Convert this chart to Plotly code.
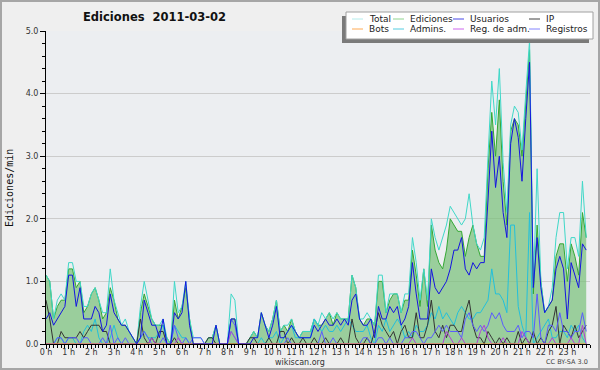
import plotly.graph_objects as go

# ---------------- data (edits per minute, 10-minute bins) ----------------
minutes = list(range(0, 1440, 10))
hour_labels = [f"{h} h" for h in range(24)]

total = [
    1.1, 1.0, 0.4, 0.7, 0.8, 0.7,
    1.3, 1.3, 1.0, 1.0, 0.6, 0.6,
    0.8, 0.9, 0.7, 0.5, 0.5, 1.2,
    0.7, 0.5, 0.3, 0.4, 0.2, 0.1,
    0.0, 0.6, 1.0, 0.7, 0.4, 0.3,
    0.3, 0.4, 0.1, 0.0, 1.0, 0.5,
    0.6, 1.0, 0.4, 0.1, 0.1, 0.1,
    0.0, 0.1, 0.1, 0.3, 0.0, 0.0,
    0.0, 0.8, 0.7, 0.0, 0.0, 0.0,
    0.1, 0.2, 0.1, 0.5, 0.3, 0.2,
    0.4, 0.7, 0.2, 0.3, 0.3, 0.4,
    0.2, 0.1, 0.2, 0.2, 0.2, 0.4,
    0.3, 0.5, 0.4, 0.5, 0.4, 0.5,
    0.4, 0.4, 0.4, 1.1, 0.9, 0.4,
    0.4, 0.5, 0.4, 0.3, 1.1, 1.1,
    0.5, 0.8, 0.8, 0.8, 0.5, 0.8,
    0.8, 1.7, 1.3, 0.7, 1.2, 0.7,
    2.0, 1.7, 1.5, 1.7, 1.9, 2.2,
    2.1, 2.0, 1.9, 2.0, 2.4, 1.9,
    1.6, 1.5, 1.7, 3.0, 4.2, 3.5,
    4.4, 2.9, 2.1, 3.5, 3.8, 3.7,
    3.1, 4.0, 4.85, 0.9, 2.8, 1.0,
    0.5, 0.6, 0.9, 1.7, 2.1, 2.1,
    1.2, 1.7, 1.7, 1.4, 2.6, 1.7,
]

ediciones = [
    1.1, 1.0, 0.4, 0.6, 0.7, 0.7,
    1.2, 1.2, 0.9, 1.0, 0.5, 0.6,
    0.8, 0.9, 0.7, 0.4, 0.5, 0.9,
    0.7, 0.4, 0.3, 0.3, 0.2, 0.1,
    0.0, 0.5, 0.8, 0.6, 0.4, 0.3,
    0.3, 0.3, 0.1, 0.0, 0.7, 0.4,
    0.6, 0.9, 0.4, 0.0, 0.0, 0.0,
    0.0, 0.1, 0.1, 0.3, 0.0, 0.0,
    0.0, 0.4, 0.4, 0.0, 0.0, 0.0,
    0.1, 0.2, 0.1, 0.5, 0.3, 0.2,
    0.4, 0.7, 0.2, 0.3, 0.2, 0.4,
    0.2, 0.1, 0.2, 0.2, 0.2, 0.4,
    0.3, 0.3, 0.4, 0.5, 0.3, 0.5,
    0.4, 0.4, 0.4, 1.1, 0.9, 0.4,
    0.3, 0.4, 0.4, 0.3, 1.0, 1.0,
    0.5, 0.7, 0.8, 0.8, 0.5, 0.7,
    0.7, 1.5, 1.1, 0.6, 1.2, 0.6,
    1.9, 1.5, 1.3, 1.2, 1.5, 2.0,
    1.9, 1.8, 1.8, 1.4, 1.7, 1.9,
    1.6, 1.4, 1.4, 2.8, 3.7, 3.0,
    3.9, 2.6, 1.9, 3.4, 3.6, 3.5,
    3.0, 3.8, 4.7, 0.8, 1.9, 1.0,
    0.5, 0.6, 0.7, 1.4, 1.6, 1.6,
    1.0, 1.6, 1.4, 1.1, 2.1, 1.7,
]

usuarios = [
    0.4, 0.5, 0.3, 0.4, 0.5, 0.6,
    1.1, 1.1, 0.6, 0.9, 0.4, 0.4,
    0.4, 0.6, 0.5, 0.2, 0.3, 0.8,
    0.5, 0.4, 0.3, 0.3, 0.2, 0.1,
    0.0, 0.1, 0.7, 0.5, 0.3, 0.3,
    0.1, 0.4, 0.0, 0.0, 0.5, 0.4,
    0.5, 1.0, 0.3, 0.0, 0.0, 0.0,
    0.0, 0.0, 0.0, 0.3, 0.0, 0.0,
    0.0, 0.4, 0.4, 0.0, 0.0, 0.0,
    0.0, 0.1, 0.1, 0.5, 0.3, 0.1,
    0.3, 0.6, 0.1, 0.1, 0.2, 0.3,
    0.2, 0.1, 0.1, 0.1, 0.1, 0.3,
    0.2, 0.3, 0.4, 0.3, 0.3, 0.4,
    0.3, 0.4, 0.3, 0.7, 0.8, 0.4,
    0.3, 0.3, 0.4, 0.1, 0.6, 0.4,
    0.4, 0.6, 0.5, 0.6, 0.3, 0.4,
    0.6, 1.3, 0.8, 0.4, 0.4, 0.4,
    1.2, 0.9, 0.8, 0.9, 1.0, 1.2,
    1.5, 1.5, 1.7, 1.2, 1.1, 1.3,
    1.2, 1.3, 1.3, 2.3, 3.4, 2.5,
    3.0, 2.1, 1.7, 3.2, 3.6, 3.3,
    2.6, 3.6, 4.5, 0.9, 1.7, 0.9,
    0.5, 0.6, 0.7, 1.2, 1.4, 1.2,
    0.4, 1.3, 1.1, 0.9, 1.6, 1.5,
]

ip = [
    0.7, 0.4, 0.0, 0.0, 0.2, 0.1,
    0.1, 0.1, 0.1, 0.2, 0.1, 0.2,
    0.3, 0.3, 0.3, 0.2, 0.2, 0.0,
    0.0, 0.0, 0.0, 0.0, 0.0, 0.0,
    0.0, 0.4, 0.1, 0.0, 0.1, 0.0,
    0.2, 0.2, 0.0, 0.0, 0.1, 0.0,
    0.0, 0.0, 0.0, 0.0, 0.0, 0.0,
    0.0, 0.1, 0.1, 0.0, 0.0, 0.0,
    0.0, 0.0, 0.0, 0.0, 0.0, 0.0,
    0.1, 0.1, 0.0, 0.0, 0.0, 0.1,
    0.0, 0.0, 0.2, 0.2, 0.0, 0.1,
    0.0, 0.0, 0.1, 0.0, 0.0, 0.1,
    0.0, 0.0, 0.1, 0.0, 0.0, 0.0,
    0.1, 0.0, 0.0, 0.4, 0.1, 0.0,
    0.0, 0.1, 0.0, 0.2, 0.5, 0.3,
    0.2, 0.1, 0.2, 0.0, 0.2, 0.3,
    0.1, 0.1, 0.5, 0.1, 0.1, 0.3,
    0.7, 0.2, 0.1, 0.3, 0.1, 0.3,
    0.3, 0.2, 0.2, 0.5, 0.7, 0.3,
    0.1, 0.1, 0.0, 0.2, 0.1, 0.0,
    0.1, 0.0, 0.1, 0.0, 0.0, 0.2,
    0.0, 0.1, 0.0, 0.2, 0.0, 0.1,
    0.0, 0.2, 0.3, 0.6, 0.0, 0.3,
    0.2, 0.1, 0.3, 0.1, 0.2, 0.3,
]

bots = [0.0] * 144

admins = [
    0.0, 0.0, 0.0, 0.1, 0.1, 0.0,
    0.1, 0.1, 0.0, 0.0, 0.2, 0.3,
    0.2, 0.4, 0.1, 0.0, 0.0, 0.1,
    0.3, 0.1, 0.0, 0.0, 0.0, 0.0,
    0.0, 0.1, 0.2, 0.1, 0.1, 0.1,
    0.2, 0.3, 0.0, 0.0, 0.3, 0.2,
    0.1, 0.1, 0.0, 0.0, 0.0, 0.0,
    0.0, 0.0, 0.0, 0.0, 0.0, 0.0,
    0.0, 0.2, 0.1, 0.0, 0.0, 0.0,
    0.0, 0.0, 0.0, 0.1, 0.0, 0.1,
    0.1, 0.2, 0.0, 0.1, 0.2, 0.3,
    0.1, 0.1, 0.1, 0.1, 0.1, 0.4,
    0.3, 0.2, 0.3, 0.2, 0.2, 0.3,
    0.2, 0.3, 0.4, 0.3, 0.2, 0.2,
    0.2, 0.3, 0.1, 0.0, 0.3, 0.2,
    0.4, 0.2, 0.3, 0.4, 0.3, 0.1,
    0.2, 0.1, 0.3, 0.2, 0.2, 0.3,
    0.5, 0.4, 0.6, 0.4, 0.5, 0.4,
    0.3, 0.5, 0.6, 0.5, 0.4, 0.4,
    0.5, 0.5, 0.6, 0.7, 1.2, 0.8,
    0.8, 0.7, 0.5, 1.9, 1.9, 0.6,
    0.3, 0.1, 2.1, 0.0, 0.1, 0.2,
    0.3, 0.4, 0.1, 0.1, 0.2, 0.2,
    0.1, 0.3, 0.2, 0.3, 0.1, 0.0,
]

reg_adm = [
    0.0, 0.0, 0.0, 0.0, 0.0, 0.0,
    0.0, 0.0, 0.0, 0.0, 0.0, 0.0,
    0.0, 0.0, 0.0, 0.0, 0.0, 0.0,
    0.0, 0.0, 0.0, 0.0, 0.0, 0.0,
    0.0, 0.0, 0.0, 0.0, 0.1, 0.0,
    0.0, 0.0, 0.0, 0.0, 0.0, 0.1,
    0.0, 0.0, 0.0, 0.0, 0.0, 0.0,
    0.0, 0.0, 0.0, 0.0, 0.0, 0.0,
    0.0, 0.2, 0.1, 0.0, 0.0, 0.0,
    0.0, 0.0, 0.0, 0.0, 0.0, 0.0,
    0.0, 0.0, 0.0, 0.0, 0.0, 0.0,
    0.0, 0.0, 0.0, 0.0, 0.0, 0.0,
    0.0, 0.0, 0.0, 0.0, 0.0, 0.0,
    0.0, 0.0, 0.0, 0.0, 0.0, 0.0,
    0.0, 0.0, 0.0, 0.0, 0.0, 0.0,
    0.0, 0.0, 0.0, 0.0, 0.0, 0.0,
    0.0, 0.1, 0.0, 0.0, 0.0, 0.0,
    0.0, 0.0, 0.0, 0.0, 0.2, 0.1,
    0.0, 0.0, 0.1, 0.0, 0.0, 0.0,
    0.0, 0.2, 0.3, 0.1, 0.0, 0.0,
    0.0, 0.1, 0.0, 0.0, 0.0, 0.0,
    0.2, 0.1, 0.0, 0.0, 0.0, 0.0,
    0.0, 0.0, 0.1, 0.0, 0.0, 0.0,
    0.0, 0.1, 0.0, 0.0, 0.3, 0.0,
]

registros = [
    0.0, 0.0, 0.0, 0.1, 0.1, 0.0,
    0.1, 0.1, 0.1, 0.0, 0.1, 0.1,
    0.0, 0.0, 0.0, 0.1, 0.0, 0.3,
    0.0, 0.1, 0.0, 0.1, 0.0, 0.0,
    0.0, 0.1, 0.2, 0.1, 0.0, 0.0,
    0.0, 0.1, 0.0, 0.0, 0.3, 0.1,
    0.0, 0.1, 0.0, 0.1, 0.1, 0.1,
    0.0, 0.0, 0.0, 0.0, 0.0, 0.0,
    0.0, 0.4, 0.3, 0.0, 0.0, 0.0,
    0.0, 0.0, 0.0, 0.0, 0.0, 0.0,
    0.0, 0.0, 0.0, 0.0, 0.1, 0.0,
    0.0, 0.0, 0.0, 0.0, 0.0, 0.0,
    0.0, 0.2, 0.0, 0.0, 0.1, 0.0,
    0.0, 0.0, 0.0, 0.0, 0.0, 0.0,
    0.1, 0.1, 0.0, 0.0, 0.1, 0.1,
    0.0, 0.1, 0.0, 0.0, 0.0, 0.1,
    0.1, 0.2, 0.2, 0.1, 0.0, 0.1,
    0.1, 0.2, 0.3, 0.2, 0.3, 0.2,
    0.2, 0.2, 0.1, 0.4, 0.5, 0.3,
    0.2, 0.3, 0.2, 0.3, 0.5, 0.4,
    0.5, 0.3, 0.2, 0.2, 0.2, 0.3,
    0.1, 0.2, 0.2, 0.1, 0.8, 0.1,
    0.0, 0.3, 0.3, 0.2, 0.5, 0.2,
    0.2, 0.1, 0.2, 0.2, 0.5, 0.2,
]

series_names = ["Total", "Ediciones", "Usuarios", "IP",
                "Bots", "Admins.", "Reg. de adm.", "Registros"]
series_colors = ["#3fd8c8", "#34a834", "#1414e0", "#333333",
                 "#ff9933", "#22c0dc", "#b040d8", "#5a5aff"]
legend_colors = ["#b4ecec", "#8fd48f", "#4848e8", "#404040",
                 "#ffaa55", "#55cce0", "#cc66ee", "#8484ff"]

# ---------------- geometry helpers ----------------
W, H = 600, 370
ML, MR, MT, MB = 46, 10, 31, 26
PW = W - ML - MR
PH = H - MT - MB


def px(x):
    return (x - ML) / PW


def py(y):
    return (H - MB - y) / PH


hours = [m / 60 for m in minutes]
values = dict(zip(series_names, [total, ediciones, usuarios, ip,
                                 bots, admins, reg_adm, registros]))
colors = dict(zip(series_names, series_colors))

fig = go.Figure()

# filled Ediciones area
fig.add_trace(go.Scatter(
    x=hours, y=values["Ediciones"], mode="lines",
    line=dict(color=colors["Ediciones"], width=1),
    fill="tozeroy", fillcolor="rgba(120,192,120,0.70)",
    showlegend=False, hoverinfo="skip"))

for name in ["Total", "Admins.", "IP", "Registros", "Reg. de adm.", "Bots", "Usuarios"]:
    fig.add_trace(go.Scatter(
        x=hours, y=values[name], mode="lines",
        line=dict(color=colors[name], width=1),
        showlegend=False, hoverinfo="skip"))

tickfont = dict(family="DejaVu Sans", size=8, color="#333333")

fig.update_layout(
    width=W, height=H, autosize=False,
    margin=dict(l=ML, r=MR, t=MT, b=MB, pad=0),
    paper_bgcolor="#efefef", plot_bgcolor="#eceef1",
    showlegend=False,
    xaxis=dict(
        range=[0, 24], tickmode="array", tickvals=list(range(24)),
        ticktext=hour_labels, ticks="outside", ticklen=4, tickwidth=1,
        tickcolor="black", showline=True, linecolor="black", linewidth=1,
        showgrid=False, zeroline=False, tickfont=tickfont,
        ticklabelstandoff=-4,
        layer="above traces", fixedrange=True, automargin=False,
        minor=dict(tickmode="linear", tick0=0, dtick=1 / 6, ticks="outside",
                   ticklen=3, tickcolor="black", tickwidth=1, showgrid=False),
    ),
    yaxis=dict(
        range=[0, 5], tick0=0, dtick=1, tickformat=".1f", ticks="outside",
        ticklen=5, tickwidth=1, tickcolor="black", showline=True,
        linecolor="black", linewidth=1, showgrid=True, gridcolor="#cccccc",
        gridwidth=1, zeroline=False, tickfont=tickfont,
        layer="above traces", fixedrange=True, automargin=False,
        minor=dict(tick0=0, dtick=0.2, ticks="outside", ticklen=3,
                   tickcolor="black", tickwidth=1, showgrid=False),
    ),
)

shapes = []
annotations = []

# outer frame
shapes.append(dict(type="rect", xref="paper", yref="paper",
                   x0=px(1), x1=px(599), y0=py(1), y1=py(369),
                   line=dict(color="#a6a6a6", width=2), fillcolor="rgba(0,0,0,0)",
                   layer="above"))

# legend box (shadow + box)
shapes.append(dict(type="rect", xref="paper", yref="paper",
                   x0=px(342), x1=px(589), y0=py(43), y1=py(16),
                   line=dict(width=0), fillcolor="#7a7a7a", layer="above"))
shapes.append(dict(type="rect", xref="paper", yref="paper",
                   x0=px(346), x1=px(593), y0=py(39), y1=py(12),
                   line=dict(color="#a0a0a0", width=1), fillcolor="white",
                   layer="above"))

col_line_x = [352, 393, 453, 529]
row_y = [19, 29]
for k, name in enumerate(series_names):
    r, c = divmod(k, 4)
    x0 = col_line_x[c]
    yy = row_y[r]
    shapes.append(dict(type="line", xref="paper", yref="paper",
                       x0=px(x0), x1=px(x0 + 11), y0=py(yy), y1=py(yy),
                       line=dict(color=legend_colors[k], width=1), layer="above"))
    annotations.append(dict(text=name, xref="paper", yref="paper",
                            x=px(x0 + 15), y=py(yy), xanchor="left", yanchor="middle",
                            showarrow=False,
                            font=dict(family="DejaVu Sans", size=9, color="#222222")))

# title
annotations.append(dict(text="<b>Ediciones\u00a0\u00a02011-03-02</b>", xref="paper", yref="paper",
                        x=px(154), y=py(17), xanchor="center", yanchor="middle",
                        showarrow=False,
                        font=dict(family="DejaVu Sans", size=11.5, color="#111111")))
# y-axis title
annotations.append(dict(text="Ediciones/min", xref="paper", yref="paper",
                        x=px(9), y=py(188), xanchor="center", yanchor="middle",
                        textangle=-90, showarrow=False,
                        font=dict(family="DejaVu Sans Mono", size=10, color="#111111")))
# footer texts
annotations.append(dict(text="wikiscan.org", xref="paper", yref="paper",
                        x=px(300), y=py(362), xanchor="center", yanchor="middle",
                        showarrow=False,
                        font=dict(family="DejaVu Sans", size=8, color="#333333")))
annotations.append(dict(text="CC BY-SA 3.0", xref="paper", yref="paper",
                        x=px(590), y=py(362), xanchor="right", yanchor="middle",
                        showarrow=False,
                        font=dict(family="DejaVu Sans", size=6.5, color="#444444")))

fig.update_layout(shapes=shapes, annotations=annotations)

fig.write_html("out.html",
               config={"displayModeBar": False},
               post_script="document.body.style.margin='0px';"
                           "document.body.style.overflow='hidden';")
